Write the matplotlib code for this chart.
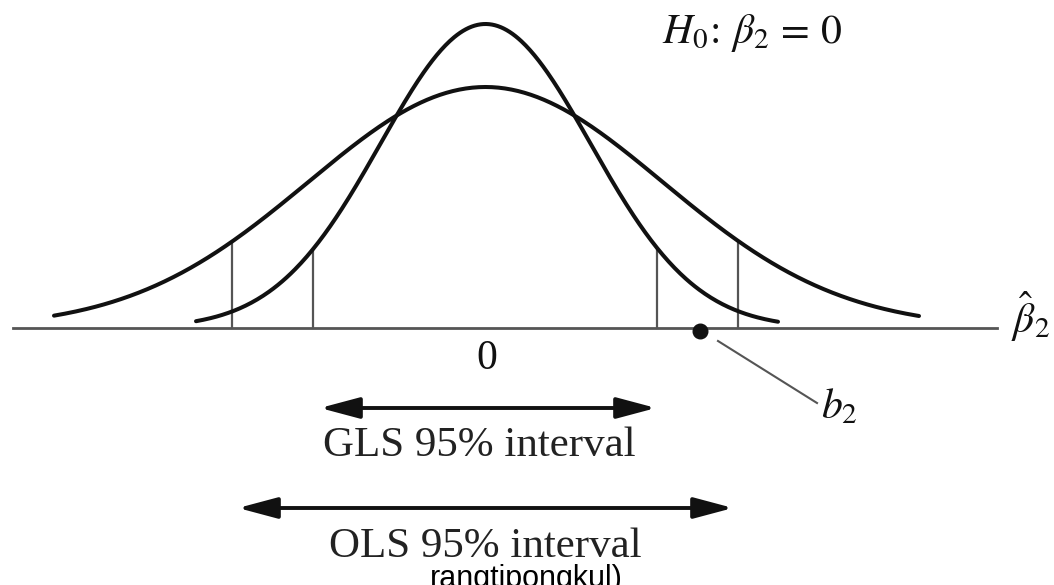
import numpy as np
import matplotlib
matplotlib.use("Agg")
import matplotlib.pyplot as plt

plt.rcParams["font.family"] = ["Liberation Serif", "DejaVu Serif"]
plt.rcParams["mathtext.fontset"] = "stix"

# sampling distributions of the estimator (centre 0, axis units)
ols_sd, ols_peak = 1.77, 2.41
gls_sd, gls_peak = 1.05, 3.04
ols_range = [-4.315, 4.335]
gls_range = [-2.895, 2.925]

# 95% interval end points and the arrows drawn under the axis
ols_ci = [-2.535, 2.525]
gls_ci = [-1.725, 1.715]
gls_arrow = [-1.655, 1.705]
ols_arrow = [-2.475, 2.475]

b2 = 2.145
axis_range = [-4.725, 5.115]

labels = {"gls": "GLS 95% interval", "ols": "OLS 95% interval"}


def bell(x, sd, peak):
    return peak * np.exp(-0.5 * (x / sd) ** 2)


fig = plt.figure(figsize=(10.54, 5.85), dpi=100)
ax = fig.add_axes([0, 0, 1, 1])
ax.set_xlim(-4.855, 5.685)
ax.set_ylim(-2.57, 3.28)
ax.axis("off")

ink = "#111111"
grey = "#555555"

# horizontal axis
ax.plot(axis_range, [0, 0], color=grey, lw=2.0, zorder=1)

# the two curves
for rng, sd, pk in [(ols_range, ols_sd, ols_peak), (gls_range, gls_sd, gls_peak)]:
    xs = np.linspace(rng[0], rng[1], 400)
    ax.plot(xs, bell(xs, sd, pk), color=ink, lw=2.9, solid_capstyle="round", zorder=3)

# vertical lines at the interval ends, up to their own curve
for ci, sd, pk in [(ols_ci, ols_sd, ols_peak), (gls_ci, gls_sd, gls_peak)]:
    for c in ci:
        ax.plot([c, c], [0, bell(c, sd, pk)], color=grey, lw=1.6, zorder=2)

# b2 point with leader line
ax.plot([b2], [-0.03], "o", color=ink, ms=10.5, zorder=4)
ax.plot([b2 + 0.18, b2 + 1.17], [-0.13, -0.75], color=grey, lw=1.5)
ax.text(b2 + 1.21, -0.90, r"$b_2$", fontsize=30, ha="left", va="baseline", color=ink)

# labels on the axis
ax.text(0.015, -0.41, "0", fontsize=30, ha="center", va="baseline", color=ink)
ax.text(5.255, 0.115, r"$\hat{\beta}_2$", fontsize=30, ha="left", va="center", color=ink)
ax.text(1.765, 2.85, r"$H_0\!:\,\beta_2\,=\,0$", fontsize=30, ha="left", va="baseline", color=ink)

# interval arrows
arrow_kw = dict(arrowstyle="<|-|>,head_length=1.2,head_width=0.32", mutation_scale=20,
                lw=2.8, color=ink, shrinkA=0, shrinkB=0)
ax.annotate("", xy=(gls_arrow[1], -0.80), xytext=(gls_arrow[0], -0.80), arrowprops=arrow_kw)
ax.annotate("", xy=(ols_arrow[1], -1.80), xytext=(ols_arrow[0], -1.80), arrowprops=arrow_kw)
ax.text(-0.065, -1.28, labels["gls"], fontsize=31, ha="center", va="baseline", color="#222222")
ax.text(0.0, -2.29, labels["ols"], fontsize=31, ha="center", va="baseline", color="#222222")

# caption cut at the bottom edge
ax.text(0.41, -2.59, "rangtipongkul)", fontsize=22, ha="center", va="baseline",
        family=["Liberation Sans", "DejaVu Sans"], color="black")

fig.savefig("out.png", dpi=100)
